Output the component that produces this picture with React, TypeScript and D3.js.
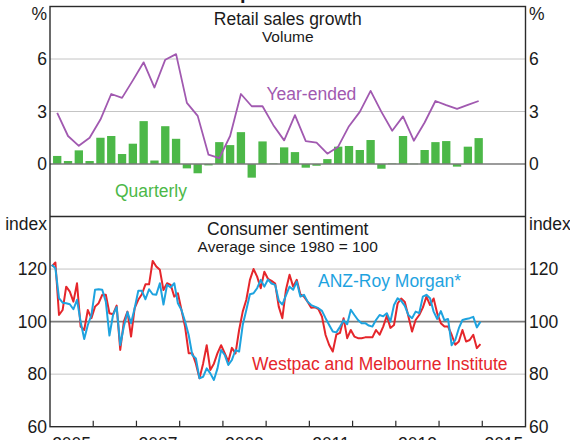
import React from "react";
import * as d3 from "d3";

// ---------- DATA ----------
const years = [2005, 2006, 2007, 2008, 2009, 2010, 2011, 2012, 2013, 2014];
const yearLabels = [2005, 2007, 2009, 2011, 2013, 2015];

// Retail sales volume growth, quarterly (%), 2005Q1 .. 2014Q4
const quarterly = [
  0.46, 0.17, 0.78, 0.17,
  1.5, 1.6, 0.57, 1.16,
  2.45, 0.2, 2.16, 1.44,
  -0.25, -0.53, -0.08, 1.25,
  1.08, 1.82, -0.78, 1.29,
  0.03, 0.95, 0.68, -0.21,
  -0.1, 0.28, 0.99, 1.03,
  0.8, 1.37, -0.27, 0.03,
  1.6, 0.02, 0.8, 1.25,
  1.31, -0.15, 0.99, 1.48,
];
// Year-ended growth (%)
const yearEnded = [
  2.92, 1.6, 1.04, 1.5,
  2.54, 4.0, 3.78, 4.78,
  5.81, 4.37, 5.96, 6.28,
  3.49, 2.75, 0.53, 0.34,
  1.6, 4.0, 3.3, 3.3,
  2.22, 1.35, 2.79, 1.31,
  1.22, 0.59, 0.99, 2.16,
  2.98, 4.18, 2.98, 1.9,
  2.72, 1.33, 2.37, 3.6,
  3.36, 3.15, 3.38, 3.6,
];

// Consumer sentiment, monthly, Jan 2005 .. Dec 2014
const westpac = [
  121, 122.5, 102.5, 104.4, 113.3, 111.4, 107.6, 114.6, 98.1, 96.8, 104.4, 101.3,
  105.7, 107, 110.2, 110.2, 103.2, 102.8, 106.1, 89.2, 100, 103.8, 94.3, 105.1,
  108.3, 110.4, 114.2, 114.2, 123.1, 121, 119.7, 112, 114.6, 114, 109.5, 110.8,
  104.4, 98, 88, 88, 84, 78.4, 84, 91, 81.6, 84, 88, 91,
  88, 84.8, 90, 87.9, 96.8, 103.8, 108.3, 115.9, 120, 117.1, 112.7, 119,
  116.3, 115.5, 114.5, 105.7, 101.3, 112.1, 117.8, 113.3, 115.9, 110.4, 109.5, 107.6,
  105.3, 105.5, 104.8, 101.9, 94.9, 91.1, 88.6, 95.1, 95.7, 101.3, 93.7, 96.8,
  94.3, 93.7, 93.7, 94, 94, 94, 96.8, 95, 98.1, 102.2, 97.6, 98.7,
  106.9, 108.8, 107.5, 101.9, 96.2, 100.6, 102.5, 105.3, 109.5, 106.3, 108.8, 103.1,
  99.4, 98.1, 98.1, 95, 91.2, 92.4, 96.8, 92.4, 93, 95, 89.9, 91.4,
];
const anzRoyMorgan = [
  121.6, 120.3, 108.9, 107.2, 107, 106.6, 104.7, 108.3, 100, 93.4, 98.7, 102.5,
  112.1, 112.3, 112.1, 107.6, 94.7, 102.5, 105.5, 91.1, 98.1, 103.6, 99.4, 105.1,
  111.7, 111.7, 108.5, 112.3, 110.4, 110.2, 114.6, 106.5, 114, 113, 114.6, 107,
  104.4, 100, 94.9, 87.3, 86, 78.4, 79, 82.2, 80.3, 77.8, 82.2, 89.2,
  87.3, 83.5, 85.4, 89.2, 88.6, 98.7, 104.4, 110.4, 110.8, 112.7, 115.9, 113.3,
  116, 114.5, 114, 108, 106.5, 110, 113.3, 112.1, 115.2, 109.5, 110.2, 107.6,
  106.3, 105.7, 105.1, 104.1, 101.3, 98.7, 96.2, 95.9, 98, 100.5, 99, 104.5,
  102.5, 100.6, 99.4, 99.4, 98.5, 98.1, 100.6, 102.5, 102, 103.2, 100, 106.3,
  108.9, 107.9, 106, 102.5, 101.3, 103.8, 103.2, 109.5, 110.2, 108.9, 103.8, 101,
  104, 100.5, 101, 91, 93, 97.5, 100.6, 101, 101.3, 101.8, 97.8, 100,
];

const topTicks = [0, 3, 6];
const topGrid = [3, 6];
const botTicks = [60, 80, 100, 120];
const botGrid = [80, 120];

// ---------- LAYOUT ----------
const W = 570;
const H = 440;
const L = 50;
const R = 525.5;
const T = 6.5;
const MID = 216.5;
const B = 426.7;

const FONT = "'Liberation Sans', Arial, Helvetica, sans-serif";
const C_GREEN = "#4cb848";
const C_PURPLE = "#a159b0";
const C_RED = "#e5262b";
const C_BLUE = "#1ea3df";
const C_TEXT = "#1a1a1a";
const C_FRAME = "#2b2b2b";
const C_GRID = "#c4c4c4";
const C_ZERO = "#7a7a7a";

export default function App() {
  const x = d3.scaleLinear().domain([2005, 2016]).range([L, R]);
  const yTop = d3.scaleLinear().domain([-3, 9]).range([MID, T]);
  const yBot = d3.scaleLinear().domain([60, 140]).range([B, MID]);

  const qDate = (i: number) => years[0] + Math.floor(i / 4) + (3 * (i % 4) + 2) / 12;
  const mDate = (i: number) => years[0] + Math.floor(i / 12) + ((i % 12) + 0.5) / 12;

  const barW = (x(0.25) - x(0)) * 0.77;

  const yeLine = d3
    .line<number>()
    .x((_, i) => x(qDate(i)))
    .y((d) => yTop(d))(yearEnded) as string;

  const monthLine = d3
    .line<number>()
    .x((_, i) => x(mDate(i)))
    .y((d) => yBot(d));

  const redPath = monthLine(westpac) as string;
  const bluePath = monthLine(anzRoyMorgan) as string;

  const yearTicks = d3.range(2006, 2016);

  const fs = 17.5;

  return (
    <svg
      width={W}
      height={H}
      style={{ position: "absolute", left: 0, top: 0, background: "#fff" }}
      fontFamily={FONT}
    >
      <rect x={0} y={0} width={W} height={H} fill="#fff" />

      {/* cut-off chart title */}
      <text x={160} y={-1} fontSize={20} fontWeight="bold" fill={C_TEXT}>
        Consumption Indicators
      </text>

      {/* grid lines */}
      {topGrid.map((v) => (
        <line key={"tg" + v} x1={L} x2={R} y1={yTop(v)} y2={yTop(v)} stroke={C_GRID} strokeWidth={1} />
      ))}
      {botGrid.map((v) => (
        <line key={"bg" + v} x1={L} x2={R} y1={yBot(v)} y2={yBot(v)} stroke={C_GRID} strokeWidth={1} />
      ))}

      {/* quarterly bars */}
      {quarterly.map((v, i) => {
        const cx = x(qDate(i));
        const y0 = yTop(0);
        const y1 = yTop(v);
        return (
          <rect
            key={"q" + i}
            x={cx - barW / 2}
            y={Math.min(y0, y1)}
            width={barW}
            height={Math.max(Math.abs(y1 - y0), 0.6)}
            fill={C_GREEN}
          />
        );
      })}

      {/* zero / 100 lines */}
      <line x1={L} x2={R} y1={yTop(0)} y2={yTop(0)} stroke={C_ZERO} strokeWidth={1.6} />
      <line x1={L} x2={R} y1={yBot(100)} y2={yBot(100)} stroke={C_ZERO} strokeWidth={1.6} />

      {/* year-ended line */}
      <path d={yeLine} fill="none" stroke={C_PURPLE} strokeWidth={1.8} strokeLinejoin="round" />

      {/* sentiment lines */}
      <path d={redPath} fill="none" stroke={C_RED} strokeWidth={2} strokeLinejoin="round" />
      <path d={bluePath} fill="none" stroke={C_BLUE} strokeWidth={2} strokeLinejoin="round" />

      {/* frame */}
      <rect x={L} y={T} width={R - L} height={B - T} fill="none" stroke={C_FRAME} strokeWidth={1.4} />
      <line x1={L} x2={R} y1={MID} y2={MID} stroke={C_FRAME} strokeWidth={1.4} />

      {/* x ticks */}
      {yearTicks.map((yr) => (
        <line key={"xt" + yr} x1={x(yr)} x2={x(yr)} y1={B} y2={B - 6} stroke={C_FRAME} strokeWidth={1.2} />
      ))}
      {yearLabels.map((yr) => (
        <text key={"xl" + yr} x={x(yr + 0.5)} y={450} fontSize={fs} textAnchor="middle" fill={C_TEXT}>
          {yr}
        </text>
      ))}

      {/* y tick labels */}
      {topTicks.map((v) => (
        <g key={"tt" + v}>
          <text x={47} y={yTop(v) + 6.3} fontSize={fs} textAnchor="end" fill={C_TEXT}>{v}</text>
          <text x={529} y={yTop(v) + 6.3} fontSize={fs} textAnchor="start" fill={C_TEXT}>{v}</text>
        </g>
      ))}
      {botTicks.map((v) => (
        <g key={"bt" + v}>
          <text x={47} y={yBot(v) + 6.3} fontSize={fs} textAnchor="end" fill={C_TEXT}>{v}</text>
          <text x={529} y={yBot(v) + 6.3} fontSize={fs} textAnchor="start" fill={C_TEXT}>{v}</text>
        </g>
      ))}

      {/* units */}
      <text x={47} y={20} fontSize={fs} textAnchor="end" fill={C_TEXT}>%</text>
      <text x={529} y={20} fontSize={fs} textAnchor="start" fill={C_TEXT}>%</text>
      <text x={47} y={230} fontSize={fs} textAnchor="end" fill={C_TEXT}>index</text>
      <text x={529} y={230} fontSize={fs} textAnchor="start" fill={C_TEXT}>index</text>

      {/* panel titles */}
      <text x={(L + R) / 2} y={25} fontSize={fs} textAnchor="middle" fill={C_TEXT}>Retail sales growth</text>
      <text x={(L + R) / 2} y={42} fontSize={15.5} textAnchor="middle" fill={C_TEXT}>Volume</text>
      <text x={(L + R) / 2} y={235} fontSize={fs} textAnchor="middle" fill={C_TEXT}>Consumer sentiment</text>
      <text x={(L + R) / 2} y={251.5} fontSize={15.5} textAnchor="middle" fill={C_TEXT}>Average since 1980 = 100</text>

      {/* series labels */}
      <text x={266.5} y={100} fontSize={fs} fill={C_PURPLE}>Year-ended</text>
      <text x={115} y={197} fontSize={fs} fill={C_GREEN}>Quarterly</text>
      <text x={318} y={287} fontSize={fs} fill={C_BLUE}>ANZ-Roy Morgan*</text>
      <text x={252} y={370} fontSize={fs} fill={C_RED}>Westpac and Melbourne Institute</text>
    </svg>
  );
}
